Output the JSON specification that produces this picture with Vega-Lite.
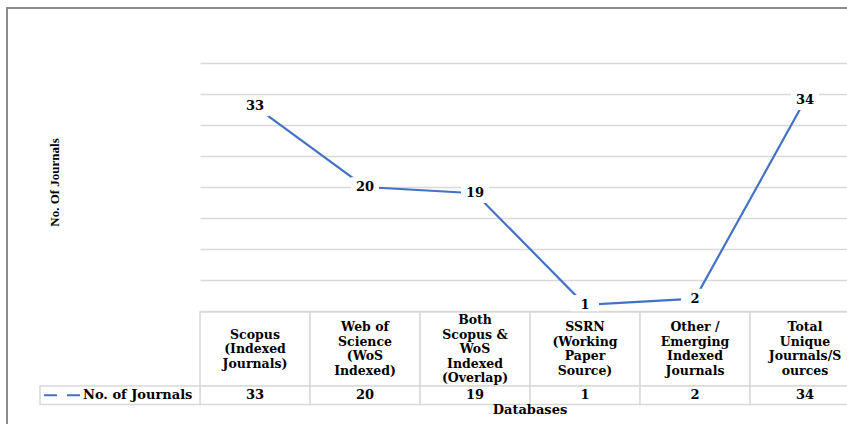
{
  "$schema": "https://vega.github.io/schema/vega-lite/v6.json",
  "width": 846,
  "height": 422,
  "autosize": {"type": "none"},
  "padding": {"left": 7, "top": 8, "right": -6, "bottom": -6},
  "background": "white",
  "config": {
    "view": {"stroke": "#8c8c8c", "strokeWidth": 2},
    "text": {"font": "DejaVu Serif", "fontWeight": "bold", "fontSize": 13, "color": "#000000"}
  },
  "datasets": {
    "journals": [
      {"database": "Scopus\n(Indexed\nJournals)", "count": 33},
      {"database": "Web of\nScience\n(WoS\nIndexed)", "count": 20},
      {"database": "Both\nScopus &\nWoS\nIndexed\n(Overlap)", "count": 19},
      {"database": "SSRN\n(Working\nPaper\nSource)", "count": 1},
      {"database": "Other /\nEmerging\nIndexed\nJournals", "count": 2},
      {"database": "Total\nUnique\nJournals/S\nources", "count": 34}
    ]
  },
  "layer": [
    {
      "data": {"name": "journals"},
      "encoding": {
        "x": {
          "field": "database", "type": "nominal", "sort": null, "bandPosition": 0.5,
          "scale": {"type": "band", "range": [193, 853], "paddingInner": 0, "paddingOuter": 0},
          "axis": null
        },
        "y": {
          "field": "count", "type": "quantitative",
          "scale": {"domain": [0, 40], "range": [303, 55], "nice": false},
          "axis": {
            "title": "No. Of Journals",
            "values": [0, 5, 10, 15, 20, 25, 30, 35, 40],
            "labels": false, "ticks": false, "domain": false,
            "grid": true, "gridColor": "#d9d9d9", "gridWidth": 1.5,
            "titleFont": "Liberation Serif", "titleFontSize": 13, "titleFontWeight": "bold",
            "titleColor": "#000000", "titleAngle": -90, "titleAlign": "center",
            "titleBaseline": "middle", "titleX": 47, "titleY": 174
          }
        }
      },
      "layer": [
        {"mark": {"type": "line", "color": "#4472C4", "strokeWidth": 2.2}},
        {"mark": {"type": "point", "shape": "M-1,-0.7H1V0.7H-1Z", "size": 784, "filled": true, "fill": "white", "strokeWidth": 0, "opacity": 1}},
        {"mark": {"type": "text", "fontSize": 13}, "encoding": {"text": {"field": "count", "type": "quantitative"}}}
      ]
    },
    {
      "data": {"name": "journals"},
      "encoding": {
        "x": {
          "field": "database", "type": "nominal", "sort": null,
          "scale": {"type": "band", "range": [193, 853], "paddingInner": 0, "paddingOuter": 0},
          "axis": null
        }
      },
      "layer": [
        {
          "mark": {"type": "rect", "fill": "white", "stroke": "#d9d9d9", "strokeWidth": 1.5},
          "encoding": {
            "y": {"datum": 0, "type": "quantitative", "scale": {"domain": [0, 6], "range": [304, 415], "nice": false, "zero": false}, "axis": null},
            "y2": {"datum": 4}
          }
        },
        {
          "mark": {"type": "rect", "fill": "white", "stroke": "#d9d9d9", "strokeWidth": 1.5},
          "encoding": {"y": {"datum": 4, "type": "quantitative"}, "y2": {"datum": 5}}
        },
        {
          "transform": [{"filter": {"field": "database", "oneOf": ["Scopus\n(Indexed\nJournals)"]}}],
          "mark": {"type": "text", "fontSize": 12.5, "lineBreak": "\n", "lineHeight": 14.5, "align": "center", "baseline": "middle", "dy": -14.5},
          "encoding": {
            "x": {"field": "database", "type": "nominal", "sort": null, "bandPosition": 0.5},
            "y": {"datum": 2, "type": "quantitative"},
            "text": {"field": "database", "type": "nominal"}
          }
        },
        {
          "transform": [{"filter": {"field": "database", "oneOf": ["Web of\nScience\n(WoS\nIndexed)", "SSRN\n(Working\nPaper\nSource)", "Other /\nEmerging\nIndexed\nJournals", "Total\nUnique\nJournals/S\nources"]}}],
          "mark": {"type": "text", "fontSize": 12.5, "lineBreak": "\n", "lineHeight": 14.5, "align": "center", "baseline": "middle", "dy": -21.75},
          "encoding": {
            "x": {"field": "database", "type": "nominal", "sort": null, "bandPosition": 0.5},
            "y": {"datum": 2, "type": "quantitative"},
            "text": {"field": "database", "type": "nominal"}
          }
        },
        {
          "transform": [{"filter": {"field": "database", "oneOf": ["Both\nScopus &\nWoS\nIndexed\n(Overlap)"]}}],
          "mark": {"type": "text", "fontSize": 12.5, "lineBreak": "\n", "lineHeight": 14.5, "align": "center", "baseline": "middle", "dy": -29},
          "encoding": {
            "x": {"field": "database", "type": "nominal", "sort": null, "bandPosition": 0.5},
            "y": {"datum": 2, "type": "quantitative"},
            "text": {"field": "database", "type": "nominal"}
          }
        },
        {
          "mark": {"type": "text", "fontSize": 13, "align": "center", "baseline": "middle"},
          "encoding": {
            "x": {"field": "database", "type": "nominal", "sort": null, "bandPosition": 0.5},
            "y": {"datum": 4.5, "type": "quantitative"},
            "text": {"field": "count", "type": "quantitative"}
          }
        },
        {
          "data": {"values": [{"title": "Databases"}]},
          "mark": {"type": "text", "fontSize": 13, "align": "center", "baseline": "top", "dy": -1},
          "encoding": {
            "x": {"datum": "SSRN\n(Working\nPaper\nSource)", "type": "nominal", "bandPosition": 0},
            "y": {"datum": 5, "type": "quantitative"},
            "text": {"field": "title", "type": "nominal"}
          }
        }
      ]
    },
    {
      "data": {"values": [{"series": "No. of Journals"}]},
      "encoding": {
        "x": {
          "field": "series", "type": "nominal",
          "scale": {"type": "band", "range": [33, 193], "paddingInner": 0, "paddingOuter": 0},
          "axis": null
        }
      },
      "layer": [
        {
          "mark": {"type": "rect", "fill": "white", "stroke": "#d9d9d9", "strokeWidth": 1.5},
          "encoding": {
            "y": {"datum": 4, "type": "quantitative", "scale": {"domain": [0, 6], "range": [304, 415], "nice": false, "zero": false}, "axis": null},
            "y2": {"datum": 5}
          }
        },
        {
          "mark": {"type": "point", "shape": "stroke", "size": 1296, "stroke": "#4472C4", "strokeWidth": 2, "strokeDash": [13, 10], "opacity": 1, "xOffset": 22},
          "encoding": {
            "x": {"field": "series", "type": "nominal", "bandPosition": 0},
            "y": {"datum": 4.5, "type": "quantitative"}
          }
        },
        {
          "mark": {"type": "text", "fontSize": 13, "align": "left", "baseline": "middle", "dx": 43},
          "encoding": {
            "x": {"field": "series", "type": "nominal", "bandPosition": 0},
            "y": {"datum": 4.5, "type": "quantitative"},
            "text": {"field": "series", "type": "nominal"}
          }
        }
      ]
    }
  ],
  "resolve": {"scale": {"x": "independent", "y": "independent"}}
}
